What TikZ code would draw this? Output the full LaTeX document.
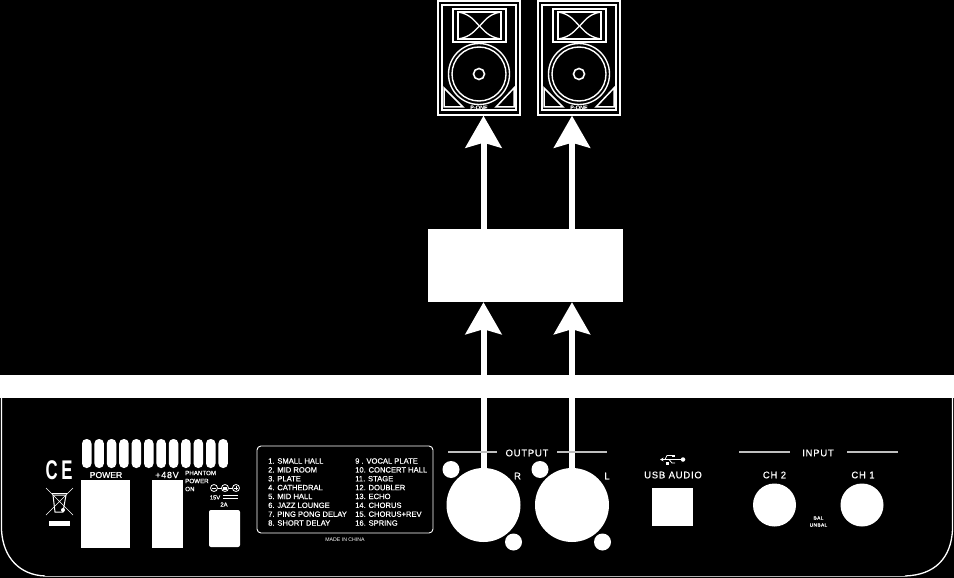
\documentclass[tikz,border=0pt]{standalone}
\usepackage{fontspec}
\setmainfont{Liberation Sans}
\newfontfamily\panelfont[LetterSpace=8,FakeBold=0.6]{Liberation Sans}
\newfontfamily\listfont[FakeBold=0.6]{Liberation Sans}
\usetikzlibrary{positioning,arrows.meta}

\tikzset{
panellabel/.style={text=white,inner sep=0pt,font=\panelfont\fontsize{9.5}{10}\selectfont},
smalllabel/.style={text=white,inner sep=0pt,font=\listfont\fontsize{8.6}{9}\selectfont},
tinylabel/.style={text=white,inner sep=0pt,font=\listfont\fontsize{6.2}{7}\selectfont},
listlabel/.style={text=white,inner sep=0pt,anchor=west,font=\listfont\fontsize{7.6}{8}\selectfont},
whitebox/.style={fill=white,inner sep=0pt},
jack/.style={circle,fill=white,inner sep=0pt,minimum size=#1},
signal/.style={draw=white,line width=6pt,-{Stealth[length=32pt,width=36pt,inset=5pt]}},
rule/.style={draw=white!75!black,line width=1.2pt},
pics/loudspeaker/.style={code={
    \draw[white,line width=1.5pt] (-41,-57) rectangle (41,57);
    \draw[white,line width=1.3pt] (-37,-53) rectangle (37,52);
    \draw[white,line width=1.5pt] (-26,-49) rectangle (27,-16);
    \draw[white,line width=1.4pt] (-21,-46) rectangle (22,-19);
    \draw[white,line width=1.3pt] (-21,-46) .. controls (-8,-44) and (-4,-36) .. (.5,-32) .. controls (5,-28) and (9,-21) .. (22,-19);
    \draw[white,line width=1.3pt] (22,-46) .. controls (9,-44) and (5,-36) .. (.5,-32) .. controls (-4,-28) and (-8,-21) .. (-21,-19);
    \draw[white,line width=1.4pt] (0,16) circle[radius=30.5pt];
    \draw[white,line width=1.4pt] (0,16) circle[radius=27pt];
    \draw[white,line width=1.6pt] (0,16) circle[radius=5.5pt];
    \draw[white,line width=1.5pt] (-35,30) -- (-35,49) -- (-16,49) -- cycle;
    \draw[white,line width=1.5pt] (35,30) -- (35,49) -- (17,49) -- cycle;
    \node[tinylabel,font=\listfont\fontsize{5.5}{5}\selectfont] (brand) at (0,49.5) {P-ONE};
}}
}

\begin{document}
\begin{tikzpicture}[x=1pt,y=-1pt,>=Stealth]
\useasboundingbox[fill=black] (0,0) rectangle (954,578);

% panel
\fill[white] (0,375) rectangle (954,398);
\draw[white,line width=1.3pt] (1.5,398) -- (1.5,530) .. controls (3,558) and (20,575) .. (45,576);
\draw[white,line width=1.3pt] (905,576) .. controls (935,575) and (951,558) .. (952.5,530) -- (952.5,398);
\draw[white!70!black,line width=.8pt] (45,576) -- (905,576);

% speakers
\node[minimum width=84pt,minimum height=115pt,inner sep=0pt] (speakerR) at (479,58) {};
\node[minimum width=84pt,minimum height=115pt,inner sep=0pt] (speakerL) at (579,58) {};
\pic at (speakerR) {loudspeaker};
\pic at (speakerL) {loudspeaker};

\node[whitebox,minimum width=195pt,minimum height=73pt] (effectbox) at (525.5,265.5) {};

% outputs
\node[jack=74pt] (xlrR) at (483.5,505) {};
\node[jack=74pt] (xlrL) at (572,505) {};
\node[jack=17pt] (screwRa) at (451,469.5) {};
\node[jack=17pt] (screwRb) at (513.5,542) {};
\node[jack=17pt] (screwLa) at (540,469.5) {};
\node[jack=17pt] (screwLb) at (602.5,542) {};

\draw[signal] (xlrR.north) -- (effectbox.south -| xlrR);
\draw[signal] (xlrL.north) -- (effectbox.south -| xlrL);
\draw[signal] (effectbox.north -| xlrR) -- (speakerR.south -| xlrR);
\draw[signal] (effectbox.north -| xlrL) -- (speakerL.south -| xlrL);

\node[panellabel] (outputlabel) at (527,453) {OUTPUT};
\draw[rule] (448,452) -- (497,452);
\draw[rule] (557,452) -- (607,452);
\node[panellabel] (rlabel) at (517.5,476) {R};
\node[panellabel] (llabel) at (607,476) {L};

% usb
\node[panellabel] (usblabel) at (673,475) {USB AUDIO};
\node[whitebox,minimum width=41pt,minimum height=38pt] (usbport) at (672.5,507) {};
\node[jack=4.5pt] (usbdot) at (683,459.5) {};
\draw[white,line width=.9pt,<-,>={Stealth[length=3.5pt,width=3.5pt]}] (660,459.5) -- (usbdot);
\draw[white,line width=.8pt] (665,459.5) -- (667,455.5) -- (672,455.5);
\draw[white,line width=.8pt] (669,459.5) -- (672,463) -- (675,463);
\fill[white] (672,454.5) rectangle (674.5,456.5);
\fill[white] (665.5,462) rectangle (668.5,464.5);

% inputs
\node[panellabel] (inputlabel) at (818,453) {INPUT};
\draw[rule] (739,452) -- (790,452);
\draw[rule] (847,452) -- (898,452);
\node[panellabel] (ch2label) at (774.5,475) {CH 2};
\node[panellabel] (ch1label) at (863,475) {CH 1};
\node[jack=43pt] (ch2jack) at (774.5,505) {};
\node[jack=43pt] (ch1jack) at (862,505) {};
\node[tinylabel,font=\panelfont\fontsize{4.8}{5}\selectfont] (ballabel) at (818.5,518) {BAL};
\node[tinylabel,font=\panelfont\fontsize{4.8}{5}\selectfont] (unballabel) at (818.5,525) {UNBAL};

% effect list
\draw[white,line width=.9pt,rounded corners=4pt] (257,446) rectangle (433,533);
\foreach \i/\txt in {0/1. SMALL HALL,1/2. MID ROOM,2/3. PLATE,3/4. CATHEDRAL,4/5. MID HALL,5/6. JAZZ LOUNGE,6/7. PING PONG DELAY,7/8. SHORT DELAY}
    \node[listlabel] (leftrow\i) at (268,461+8.86*\i) {\txt};
\foreach \i/\txt in {0/9 . VOCAL PLATE,1/10. CONCERT HALL,2/11. STAGE,3/12. DOUBLER,4/13. ECHO,5/14. CHORUS,6/15. CHORUS+REV,7/16. SPRING}
    \node[listlabel] (rightrow\i) at (355,461+8.86*\i) {\txt};
\node[tinylabel,font=\fontsize{5.2}{5}\selectfont] (madein) at (345,539.5) {MADE IN CHINA};

% power
\foreach \i in {0,...,11}
    \fill[white,rounded corners=4.5pt] ({82+12.4*\i},439) rectangle ({91.5+12.4*\i},468);
\node[smalllabel] (powerlabel) at (106,475) {POWER};
\node[panellabel,font=\panelfont\fontsize{9}{9}\selectfont] (phantomlabel) at (167,475) {+48V};
\node[whitebox,minimum width=49pt,minimum height=68pt] (powerswitch) at (105.5,514) {};
\node[whitebox,minimum width=31pt,minimum height=68pt] (phantomswitch) at (167.5,514) {};
\node[tinylabel,anchor=west] (phantomtext) at (185,473) {PHANTOM};
\node[tinylabel,anchor=west] (powertext) at (185,481) {POWER};
\node[tinylabel,anchor=west] (ontext) at (185,489) {ON};
\node[whitebox,rounded corners=2pt,minimum width=31pt,minimum height=37pt] (dcjack) at (224.5,528.5) {};
\node[tinylabel,font=\listfont\fontsize{5.8}{6}\selectfont] (voltlabel) at (215,497.5) {15V};
\node[tinylabel,font=\listfont\fontsize{5.8}{6}\selectfont] (amplabel) at (224,504.5) {2A};
\fill[white] (223,495) rectangle (238,496.4);
\fill[white] (223,498) rectangle (238,499.4);
\draw[white,line width=.8pt] (214,488) circle[radius=3.5pt] (225,488) circle[radius=3.5pt] (236,488) circle[radius=3.5pt];
\draw[white,line width=.8pt] (217.5,488) -- (221.5,488) (228.5,488) -- (232.5,488) (212,488) -- (216,488) (234,488) -- (238,488) (236,486) -- (236,490);
\fill[white] (223,486.5) rectangle (227,489.5);

% marks
\node[text=white,inner sep=0pt,font=\bfseries\fontsize{27}{27}\selectfont] (cemark) at (59,470) {\scalebox{.62}[1]{C\hspace{6pt}E}};
\draw[white,line width=.7pt] (46,488) -- (73,515) (73,488) -- (46,515);
\draw[white,line width=1pt] (53,495) -- (55,512) -- (63,512) -- (66,495) -- cycle;
\draw[white,line width=1pt] (52,493) -- (67,493);
\fill[white] (63,510) circle[radius=2pt];
\fill[white] (49,521) rectangle (70,526);
\end{tikzpicture}
\end{document}
